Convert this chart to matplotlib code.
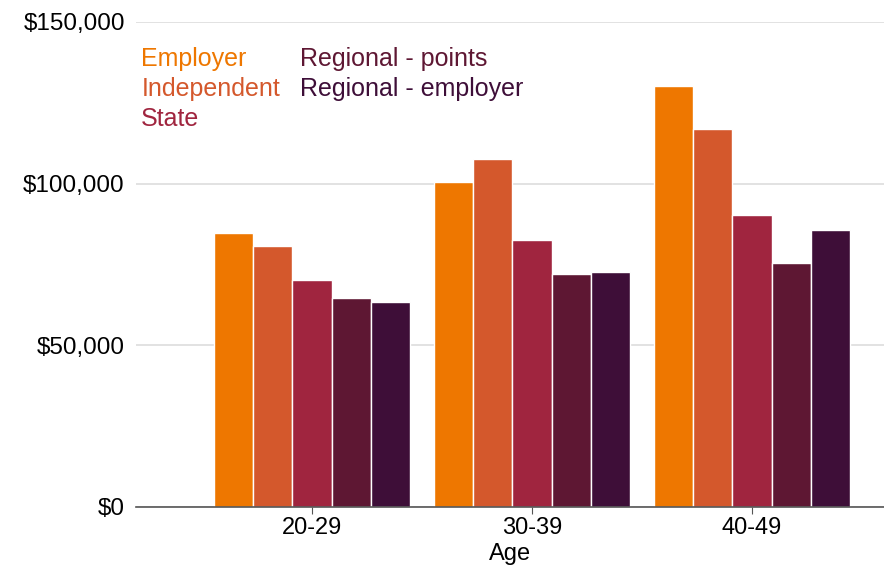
import numpy as np
import matplotlib
matplotlib.use("Agg")
import matplotlib.pyplot as plt
from matplotlib.ticker import FuncFormatter

plt.rcParams['font.family'] = ['Liberation Sans', 'DejaVu Sans']

# average salary by age group and visa stream
age_groups = ["20-29", "30-39", "40-49"]
streams = ["Employer", "Independent", "State", "Regional - points", "Regional - employer"]
employer = [84800, 100600, 130200]
independent = [80800, 107600, 116900]
state = [70100, 82700, 90400]
regional_points = [64500, 72000, 75400]
regional_employer = [63400, 72700, 85800]
colors = ["#EE7700", "#D4582C", "#A0253F", "#5E1733", "#3E0E38"]

series = [employer, independent, state, regional_points, regional_employer]

fig = plt.figure(figsize=(8.84, 5.68), dpi=100)
ax = fig.add_axes([0.1538, 0.1074, 0.8462, 0.8539])

x = np.arange(len(age_groups))
w = 0.178
for i, vals in enumerate(series):
    ax.bar(x + (i - 2) * w, vals, width=w, color=colors[i], edgecolor="white",
           linewidth=1.0, label=streams[i], zorder=2)

ax.set_ylim(0, 150000)
ax.set_xlim(-0.80, 2.60)
ax.set_yticks([0, 50000, 100000, 150000])
ax.yaxis.set_major_formatter(FuncFormatter(lambda v, p: "${:,.0f}".format(v)))
ax.yaxis.grid(True, color="#dddddd", linewidth=1.2, zorder=0)
ax.set_axisbelow(True)
ax.tick_params(axis="y", length=0, pad=8, labelsize=17.5)
ax.set_xticks(x)
ax.set_xticklabels(age_groups)
ax.tick_params(axis="x", length=5, color="#555555", labelsize=17, pad=2)
ax.set_xlabel("Age", fontsize=17, labelpad=3)

for s in ["left", "right", "top"]:
    ax.spines[s].set_visible(False)
ax.spines["bottom"].set_color("#555555")
ax.spines["bottom"].set_linewidth(1.2)

leg = ax.legend(ncol=2, frameon=False, handlelength=0, handletextpad=0,
                fontsize=18, labelspacing=0.24, columnspacing=0.8,
                loc="upper left", bbox_to_anchor=(-0.023, 0.995))
for txt, c in zip(leg.get_texts(), colors):
    txt.set_color(c)
for h in leg.legend_handles:
    h.set_visible(False)

fig.savefig("out.png", dpi=100)
